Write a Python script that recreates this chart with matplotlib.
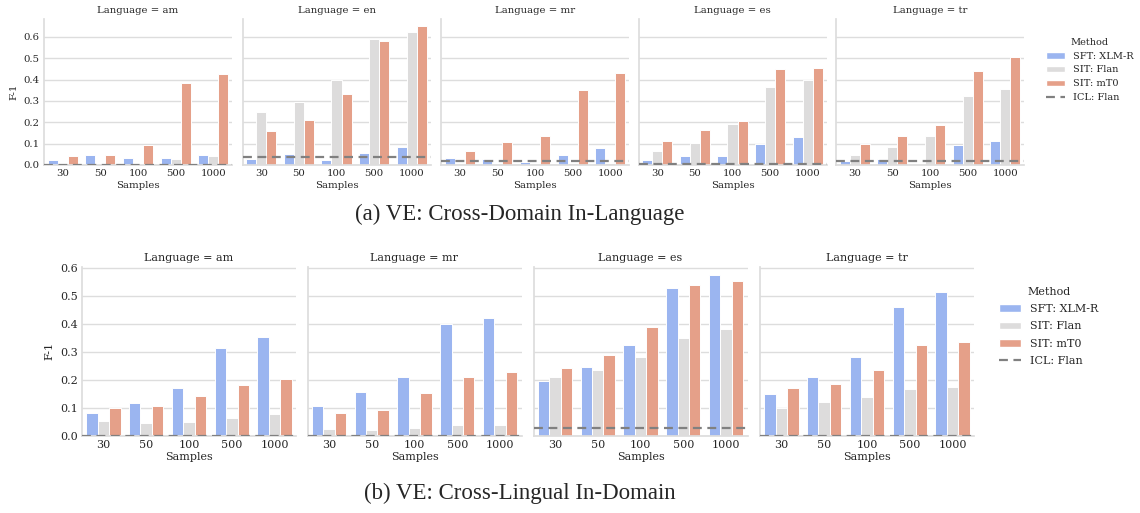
import numpy as np
import matplotlib
matplotlib.use("Agg")
import matplotlib.pyplot as plt
from matplotlib.patches import Patch
from matplotlib.lines import Line2D
import seaborn as sns

samples = ["30", "50", "100", "500", "1000"]
methods = ["SFT: XLM-R", "SIT: Flan", "SIT: mT0"]
icl_label = "ICL: Flan"

# (a) Cross-Domain In-Language
langs_a = ["am", "en", "mr", "es", "tr"]
a_sft = {
    "am": [0.023, 0.045, 0.033, 0.033, 0.047],
    "en": [0.030, 0.050, 0.023, 0.056, 0.084],
    "mr": [0.033, 0.028, 0.016, 0.045, 0.078],
    "es": [0.025, 0.042, 0.044, 0.098, 0.133],
    "tr": [0.019, 0.027, 0.006, 0.095, 0.114],
}
a_flan = {
    "am": [0.002, 0.006, 0.006, 0.028, 0.041],
    "en": [0.247, 0.297, 0.400, 0.591, 0.622],
    "mr": [0.002, 0.002, 0.002, 0.011, 0.011],
    "es": [0.066, 0.105, 0.194, 0.366, 0.397],
    "tr": [0.047, 0.086, 0.137, 0.325, 0.355],
}
a_mt0 = {
    "am": [0.041, 0.048, 0.094, 0.383, 0.428],
    "en": [0.158, 0.212, 0.331, 0.581, 0.652],
    "mr": [0.066, 0.108, 0.136, 0.353, 0.431],
    "es": [0.112, 0.164, 0.208, 0.450, 0.455],
    "tr": [0.097, 0.134, 0.189, 0.439, 0.506],
}
a_icl = {"am": 0.0, "en": 0.039, "mr": 0.019, "es": 0.005, "tr": 0.019}

# (b) Cross-Lingual In-Domain
langs_b = ["am", "mr", "es", "tr"]
b_sft = {
    "am": [0.082, 0.116, 0.170, 0.313, 0.352],
    "mr": [0.105, 0.157, 0.211, 0.401, 0.421],
    "es": [0.195, 0.246, 0.323, 0.530, 0.574],
    "tr": [0.148, 0.208, 0.280, 0.461, 0.514],
}
b_flan = {
    "am": [0.051, 0.044, 0.049, 0.061, 0.076],
    "mr": [0.025, 0.021, 0.026, 0.037, 0.039],
    "es": [0.208, 0.233, 0.283, 0.351, 0.380],
    "tr": [0.099, 0.119, 0.137, 0.165, 0.175],
}
b_mt0 = {
    "am": [0.100, 0.107, 0.140, 0.181, 0.201],
    "mr": [0.082, 0.093, 0.151, 0.210, 0.229],
    "es": [0.243, 0.289, 0.389, 0.540, 0.555],
    "tr": [0.169, 0.185, 0.235, 0.325, 0.336],
}
b_icl = {"am": 0.0, "mr": 0.0, "es": 0.027, "tr": 0.0}

sns.set_theme(style="whitegrid")
plt.rcParams["font.family"] = ["DejaVu Serif"]

base = sns.color_palette("coolwarm", 3)
colors = [sns.desaturate(c, 0.75) for c in base]
icl_color = "#808080"

W, H = 1140, 513
fig = plt.figure(figsize=(W / 100, H / 100), dpi=100)


def px_axes(x0, ytop, w, ybot):
    return fig.add_axes([x0 / W, 1 - ybot / H, w / W, (ybot - ytop) / H])


def draw_panel(ax, lang, sft, flan, mt0, icl, ymax, fs, first):
    x = np.arange(len(samples))
    bw = 0.8 / 3
    for i, vals in enumerate([sft[lang], flan[lang], mt0[lang]]):
        ax.bar(x + (i - 1) * bw, vals, width=bw, color=colors[i],
               edgecolor="white", linewidth=0.7, zorder=2)
    ax.axhline(icl[lang], color=icl_color, ls=(0, (4, 2.5)), lw=1.6, zorder=3)
    ax.set_xlim(-0.5, len(samples) - 0.5)
    ax.set_ylim(0, ymax)
    ax.set_yticks(np.arange(0, 0.61, 0.1))
    ax.set_xticks(x)
    ax.set_xticklabels(samples, fontsize=fs)
    ax.grid(axis="x", visible=False)
    ax.grid(axis="y", color="#dddddd", lw=1.0, zorder=0)
    ax.set_axisbelow(True)
    for s in ["top", "right"]:
        ax.spines[s].set_visible(False)
    ax.spines["left"].set_color("#dddddd")
    ax.spines["bottom"].set_color("#dddddd")
    ax.tick_params(length=0, pad=3, colors="#262626")
    if first:
        ax.set_yticklabels([f"{v:.1f}" for v in np.arange(0, 0.61, 0.1)], fontsize=fs)
        ax.set_ylabel("F-1", fontsize=fs, color="#262626")
    else:
        ax.set_yticklabels([])
    ax.set_xlabel("Samples", fontsize=fs, color="#262626", labelpad=2)
    ax.set_title(f"Language = {lang}", fontsize=fs, color="#262626", pad=4)


# top row
tops = [44, 242.5, 441, 638.5, 836]
for k, lang in enumerate(langs_a):
    ax = px_axes(tops[k], 19, 188, 165)
    draw_panel(ax, lang, a_sft, a_flan, a_mt0, a_icl, 0.684, 7.3, k == 0)

# bottom row
bots = [82, 307.5, 533.5, 760]
for k, lang in enumerate(langs_b):
    ax = px_axes(bots[k], 267, 214, 435.5)
    draw_panel(ax, lang, b_sft, b_flan, b_mt0, b_icl, 0.6037, 8, k == 0)

handles = [Patch(facecolor=c, edgecolor="white") for c in colors] + \
          [Line2D([0], [0], color=icl_color, ls=(0, (4, 2.5)), lw=1.6)]
labels = methods + [icl_label]

fig.legend(handles, labels, title="Method", loc="upper left",
           bbox_to_anchor=(1037 / W, 1 - 29 / H), frameon=False,
           fontsize=7, title_fontsize=7, handlelength=2.0,
           labelspacing=0.5)
fig.legend(handles, labels, title="Method", loc="upper left",
           bbox_to_anchor=(989 / W, 1 - 277 / H), frameon=False,
           fontsize=8, title_fontsize=8, handlelength=2.0,
           labelspacing=0.65)

fig.text(520 / W, 1 - 214 / H, "(a) VE: Cross-Domain In-Language",
         ha="center", va="center", fontsize=16.5, family="Liberation Serif")
fig.text(520 / W, 1 - 493 / H, "(b) VE: Cross-Lingual In-Domain",
         ha="center", va="center", fontsize=16.5, family="Liberation Serif")

fig.savefig("out.png", dpi=100)
